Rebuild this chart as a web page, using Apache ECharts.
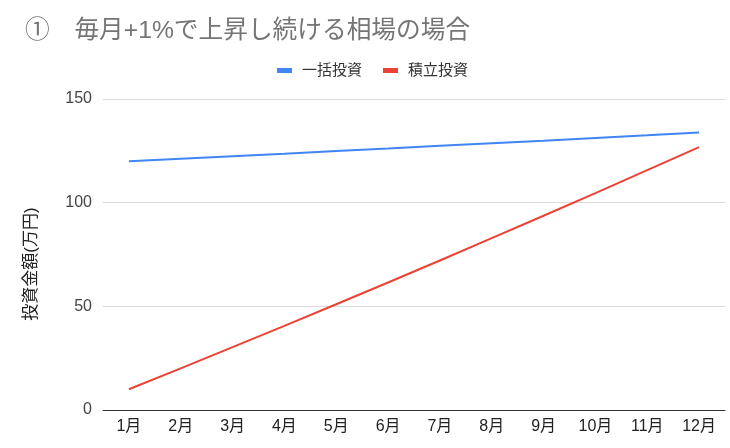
<!DOCTYPE html>
<html><head><meta charset="utf-8">
<script src="https://cdn.jsdelivr.net/npm/echarts@6/dist/echarts.min.js"></script>
<style>html,body{margin:0;padding:0;background:#fff}#c{width:730px;height:448px}</style>
</head><body><div id="c"></div>
<script>
const categories = ['1月','2月','3月','4月','5月','6月','7月','8月','9月','10月','11月','12月'];
const lumpSum = [120, 121.2, 122.4, 123.6, 124.9, 126.1, 127.4, 128.7, 129.9, 131.2, 132.5, 133.9];
const monthly = [10, 20.1, 30.3, 40.6, 51.0, 61.5, 72.1, 82.9, 93.7, 104.6, 115.7, 126.8];
const yTicks = [0, 50, 100, 150];
const font = '"Liberation Sans", Arial, "Noto Sans CJK JP", sans-serif';
const chart = echarts.init(document.getElementById('c'));
chart.setOption({
  animation: false,
  textStyle: { fontFamily: font },
  title: {
    text: '①　毎月+1%で上昇し続ける相場の場合',
    left: 20, top: 14,
    textStyle: { fontFamily: font, fontSize: 24.7, fontWeight: 'normal', color: '#757575' }
  },
  legend: {
    top: 58, left: 272,
    itemWidth: 15, itemHeight: 5, itemGap: 21,
    icon: 'rect',
    textStyle: { fontFamily: font, fontSize: 15, color: '#333', padding: [0, 0, 0, 5] },
    data: ['一括投資', '積立投資']
  },
  graphic: [{
    type: 'text', x: 31, y: 264, rotation: Math.PI / 2,
    style: { text: '投資金額(万円)', font: '17px ' + font, fill: '#222', align: 'center', verticalAlign: 'middle' }
  }],
  grid: { left: 103, right: 5, top: 99, bottom: 38 },
  xAxis: {
    type: 'category', data: categories, boundaryGap: true,
    axisLine: { lineStyle: { color: '#333', width: 1 } },
    axisTick: { show: false },
    axisLabel: { fontFamily: font, fontSize: 16, color: '#222', margin: 9 }
  },
  yAxis: {
    type: 'value', min: yTicks[0], max: yTicks[yTicks.length - 1], interval: 50,
    axisLine: { show: false }, axisTick: { show: false },
    axisLabel: { fontFamily: font, fontSize: 16, color: '#444', margin: 11 },
    splitLine: { lineStyle: { color: '#dadada', width: 1 } }
  },
  series: [
    { name: '一括投資', type: 'line', data: lumpSum, symbol: 'none', lineStyle: { color: '#4285f4', width: 2 }, itemStyle: { color: '#4285f4' } },
    { name: '積立投資', type: 'line', data: monthly, symbol: 'none', lineStyle: { color: '#ea4335', width: 2 }, itemStyle: { color: '#ea4335' } }
  ]
});
</script></body></html>
